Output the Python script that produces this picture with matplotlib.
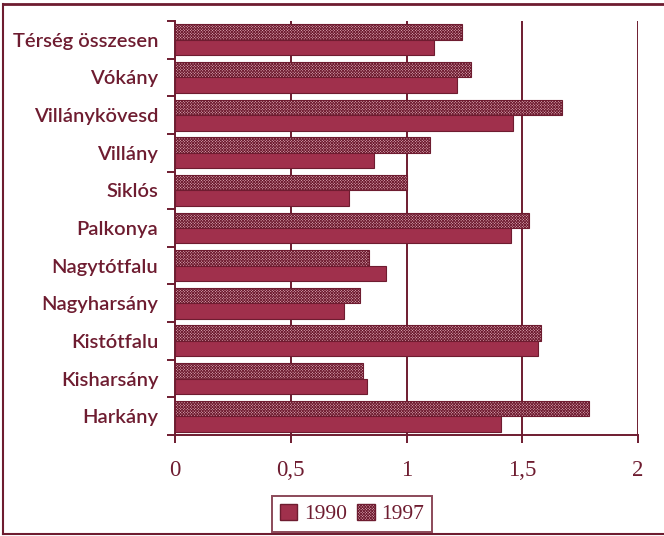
import matplotlib
matplotlib.use("Agg")
import matplotlib.pyplot as plt
import numpy as np
from matplotlib.lines import Line2D
from matplotlib.patches import Patch

categories = ["Térség összesen", "Vókány", "Villánykövesd", "Villány", "Siklós",
              "Palkonya", "Nagytótfalu", "Nagyharsány", "Kistótfalu", "Kisharsány", "Harkány"]
v1990 = [1.12, 1.22, 1.46, 0.86, 0.75, 1.45, 0.91, 0.73, 1.57, 0.83, 1.41]
v1997 = [1.24, 1.28, 1.67, 1.10, 1.00, 1.53, 0.84, 0.80, 1.58, 0.81, 1.79]
xticks = [0, 0.5, 1, 1.5, 2]
xticklabels = ["0", "0,5", "1", "1,5", "2"]
series_names = ["1990", "1997"]

maroon = "#6e1c30"
c1990 = "#a0304c"
c1997 = "#dfaab7"
hatch97 = "x" * 12
plt.rcParams['hatch.color'] = "#a03a55"
plt.rcParams['hatch.linewidth'] = 0.6

fig = plt.figure(figsize=(6.64, 5.36), dpi=100)
ax = fig.add_axes([175/664, 1-435/536, (638-175)/664, (435-21)/536])

y = np.arange(len(categories))
h = 0.41
ax.barh(y - h/2, v1997, height=h, color=c1997, edgecolor=maroon, linewidth=0.8,
        hatch=hatch97, zorder=3, label=series_names[1])
ax.barh(y + h/2, v1990, height=h, color=c1990, edgecolor=maroon, linewidth=0.8,
        zorder=3, label=series_names[0])

ax.set_xlim(0, 2)
ax.set_ylim(len(categories) - 0.5, -0.5)
for xv in xticks[1:]:
    ax.axvline(xv, color=maroon, lw=1.4, zorder=1)

for s in ["top", "right"]:
    ax.spines[s].set_visible(False)
for s in ["left", "bottom"]:
    ax.spines[s].set_color(maroon)
    ax.spines[s].set_linewidth(1.4)

ax.set_xticks(xticks)
ax.set_xticklabels(xticklabels, family="Liberation Serif", fontsize=16.5, color=maroon)
ax.tick_params(axis="x", direction="out", length=6, width=1.4, color=maroon, pad=12)

ax.set_yticks(y)
ax.set_yticklabels(categories, family="Lato", fontweight="semibold", fontsize=14.5, color=maroon)
ax.tick_params(axis="y", which="major", length=0, pad=12)
ax.set_yticks(np.arange(-0.5, len(categories) + 0.5, 1), minor=True)
ax.tick_params(axis="y", which="minor", direction="out", length=6, width=1.4, color=maroon)

handles = [Patch(facecolor=c1990, edgecolor=maroon), Patch(facecolor=c1997, edgecolor=maroon, hatch=hatch97)]
leg = fig.legend(handles, series_names, loc="center", bbox_to_anchor=(352/664, 1-514/536),
                 ncol=2, frameon=True, fancybox=False, handlelength=0.8, handleheight=0.8,
                 handletextpad=0.3, columnspacing=0.5, borderpad=0.35,
                 prop={"family": "Liberation Serif", "size": 15.5})
leg.get_frame().set_edgecolor(maroon)
leg.get_frame().set_linewidth(1.4)
for t in leg.get_texts():
    t.set_color(maroon)

# page frame
fig.add_artist(Line2D([3/664, 1], [1-4/536, 1-4/536], transform=fig.transFigure, color=maroon, lw=2))
fig.add_artist(Line2D([3/664, 3/664], [1-4/536, 1-534/536], transform=fig.transFigure, color=maroon, lw=1.5))
fig.add_artist(Line2D([3/664, 1], [1-534/536, 1-534/536], transform=fig.transFigure, color=maroon, lw=1.5))

fig.savefig("out.png", dpi=100)
